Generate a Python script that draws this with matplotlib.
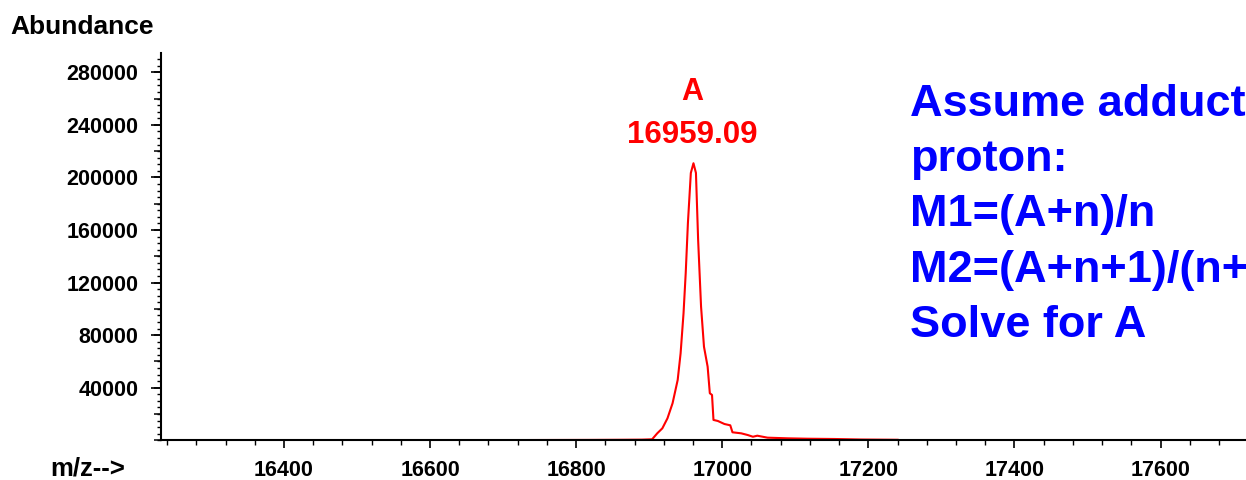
import matplotlib
matplotlib.use("Agg")
import matplotlib.pyplot as plt
from matplotlib.ticker import MultipleLocator

plt.rcParams['font.family'] = ['Liberation Sans', 'DejaVu Sans']
plt.rcParams['font.weight'] = 'bold'

# spectrum
mz = [16735, 16780, 16820, 16860, 16890, 16904, 16911, 16918, 16925, 16932,
      16939, 16943, 16947, 16950, 16953, 16957, 16960.6, 16964, 16967, 16971,
      16975, 16980, 16983, 16986, 16988, 16994, 17003, 17011, 17014, 17026,
      17035, 17042, 17048, 17062, 17090, 17117, 17153, 17190, 17240]
abundance = [200, 250, 300, 400, 500, 760, 5300, 9100, 16700, 28200,
             45900, 66200, 96600, 127300, 165300, 203400, 210800, 203400, 152400, 101700,
             71200, 56000, 35800, 34500, 15500, 14700, 12400, 11400, 6100, 5300,
             4000, 2700, 3500, 2000, 1500, 1200, 1000, 600, 400]

x_ticks = [16400, 16600, 16800, 17000, 17200, 17400, 17600]
y_ticks = [40000, 80000, 120000, 160000, 200000, 240000, 280000]

peak_label = "A"
peak_mass = "16959.09"
notes = ["Assume adduct", "proton:", "M1=(A+n)/n", "M2=(A+n+1)/(n+1)", "Solve for A"]

W, H = 1246, 480
fig = plt.figure(figsize=(W / 100, H / 100), dpi=100)
ax = fig.add_axes([160.5 / W, 39.7 / H, 1 - 160.5 / W, 387.6 / H])

ax.plot(mz, abundance, color='#ff0000', lw=1.5)

ax.set_xlim(16231, 17717)
ax.set_ylim(0, 294900)
for s in ['top', 'right']:
    ax.spines[s].set_visible(False)
for s in ['left', 'bottom']:
    ax.spines[s].set_linewidth(1.5)

ax.set_xticks(x_ticks)
ax.set_xticklabels([str(v) for v in x_ticks])
ax.xaxis.set_minor_locator(MultipleLocator(40))
ax.set_yticks(y_ticks)
ax.set_yticklabels([str(v) for v in y_ticks])
ax.yaxis.set_minor_locator(MultipleLocator(5000))

ax.tick_params(axis='x', which='major', length=6, width=1.2, pad=8, labelsize=15.5)
ax.tick_params(axis='x', which='minor', length=3.5, width=1.0)
ax.tick_params(axis='y', which='major', length=7, width=1.2, pad=9, labelsize=15.5)
ax.tick_params(axis='y', which='minor', length=3, width=1.0)

# medium ticks every 20000 on the y axis
sec = ax.secondary_yaxis('left')
sec.set_yticks([v for v in range(0, 300000, 20000)])
sec.tick_params(length=5, width=1.1, labelleft=False)
sec.spines['left'].set_visible(False)

fig.text(692 / W, 1 - 92.5 / H, peak_label, ha='center', va='center',
         color='#ff0000', fontsize=22, fontweight='bold')
fig.text(692 / W, 1 - 134.7 / H, peak_mass, ha='center', va='center',
         color='#ff0000', fontsize=22.5, fontweight='bold')

fig.text(10 / W, 1 - 27 / H, "Abundance", ha='left', va='center', fontsize=19, fontweight='bold')
fig.text(50 / W, 1 - 468 / H, "m/z-->", ha='left', va='center', fontsize=18.5, fontweight='bold')

baselines = [116, 171, 226, 282, 337]
for line, yb in zip(notes, baselines):
    fig.text(910 / W, 1 - yb / H, line, ha='left', va='baseline', color='#0000ff',
             fontsize=32.5, fontweight='bold')

fig.savefig('out.png', dpi=100)
